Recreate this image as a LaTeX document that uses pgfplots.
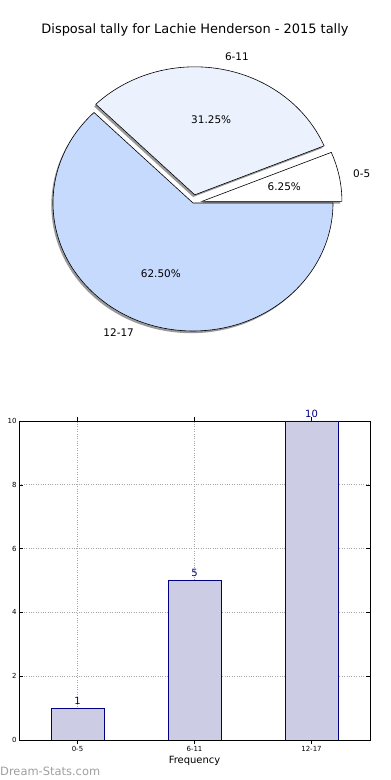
\documentclass[border=0pt]{standalone}
\usepackage{pgfplots}
\pgfplotsset{compat=1.18}
\usepackage{pgfplotstable}
\usepackage{fontspec}
\setmainfont{DejaVu Sans}
\definecolor{navyc}{RGB}{0,0,128}
\definecolor{barfill}{RGB}{204,204,229}
\definecolor{sliceA}{RGB}{255,255,255}
\definecolor{sliceB}{RGB}{235,242,254}
\definecolor{sliceC}{RGB}{198,218,254}
\begin{document}%
\begin{tikzpicture}[x=1bp,y=1bp]
\pgfplotstableread{
label value
0-5 1
6-11 5
12-17 10
}\piedata
\pgfplotstablegetelem{0}{value}\of\piedata \global\let\vA\pgfplotsretval
\pgfplotstablegetelem{1}{value}\of\piedata \global\let\vB\pgfplotsretval
\pgfplotstablegetelem{2}{value}\of\piedata \global\let\vC\pgfplotsretval
\pgfmathsetmacro\total{\vA+\vB+\vC}
\pgfmathsetmacro\eA{360*\vA/\total}
\pgfmathsetmacro\eB{\eA+360*\vB/\total}
\pgfmathsetmacro\mA{\eA/2}
\pgfmathsetmacro\mB{(\eA+\eB)/2}
\pgfmathsetmacro\mC{(\eB+360)/2}
\def\ex{0.065}
\pgfmathsetmacro\dxA{\ex*cos(\mA)}\pgfmathsetmacro\dyA{\ex*sin(\mA)}
\pgfmathsetmacro\dxB{\ex*cos(\mB)}\pgfmathsetmacro\dyB{\ex*sin(\mB)}
\pgfmathsetmacro\pA{100*\vA/\total}
\pgfmathsetmacro\pB{100*\vB/\total}
\pgfmathsetmacro\pC{100*\vC/\total}
\def\pct#1{\pgfmathprintnumber[fixed,fixed zerofill,precision=2,assume math mode=true]{#1}\%}
\def\sx{-0.012}\def\sy{-0.017}
\useasboundingbox (0,0) rectangle (390,780);
% title
\node[font=\fontsize{13}{15}\selectfont] at (195,750) {Disposal tally for Lachie Henderson - 2015 tally};
\begin{axis}[
  at={(193bp,577bp)}, anchor=origin,
  scale only axis, width=280bp, height=256bp,
  xmin=-1, xmax=1, ymin=-1, ymax=1,
  hide axis, clip=false,
]
% shadows
\fill[gray!80] (axis cs:{\dxA+\sx},{\dyA+\sy}) -- ++(0:140bp) arc[start angle=0, end angle=\eA, x radius=140bp, y radius=128bp] -- cycle;
\fill[gray!80] (axis cs:{\dxB+\sx},{\dyB+\sy}) -- ++({140*cos(\eA)*1bp},{128*sin(\eA)*1bp}) arc[start angle=\eA, end angle=\eB, x radius=140bp, y radius=128bp] -- cycle;
\fill[gray!80] (axis cs:\sx,\sy) -- ++({140*cos(\eB)*1bp},{128*sin(\eB)*1bp}) arc[start angle=\eB, end angle=360, x radius=140bp, y radius=128bp] -- cycle;
% slices
\filldraw[fill=sliceA, draw=black, line width=0.6pt, line join=miter] (axis cs:\dxA,\dyA) -- ++(0:140bp) arc[start angle=0, end angle=\eA, x radius=140bp, y radius=128bp] -- cycle;
\filldraw[fill=sliceB, draw=black, line width=0.6pt, line join=miter] (axis cs:\dxB,\dyB) -- ++({140*cos(\eA)*1bp},{128*sin(\eA)*1bp}) arc[start angle=\eA, end angle=\eB, x radius=140bp, y radius=128bp] -- cycle;
\filldraw[fill=sliceC, draw=black, line width=0.6pt, line join=miter] (axis cs:0,0) -- ++({140*cos(\eB)*1bp},{128*sin(\eB)*1bp}) arc[start angle=\eB, end angle=360, x radius=140bp, y radius=128bp] -- cycle;
% labels
\node[font=\fontsize{10.5}{12}\selectfont, anchor=west, inner sep=0pt] at (axis cs:{(1.1+\ex)*cos(\mA)},{(1.1+\ex)*sin(\mA)}) {0-5};
\node[font=\fontsize{10.5}{12}\selectfont, anchor=west, inner sep=0pt] at (axis cs:{(1.1+\ex)*cos(\mB)},{(1.1+\ex)*sin(\mB)}) {6-11};
\node[font=\fontsize{10.5}{12}\selectfont, anchor=east, inner sep=0pt] at (axis cs:{1.1*cos(\mC)},{1.1*sin(\mC)}) {12-17};
\node[font=\fontsize{10.5}{12}\selectfont] at (axis cs:{(0.6+\ex)*cos(\mA)},{(0.6+\ex)*sin(\mA)}) {\pct{\pA}};
\node[font=\fontsize{10.5}{12}\selectfont] at (axis cs:{(0.6+\ex)*cos(\mB)},{(0.6+\ex)*sin(\mB)}) {\pct{\pB}};
\node[font=\fontsize{10.5}{12}\selectfont] at (axis cs:{0.6*cos(\mC)},{0.6*sin(\mC)}) {\pct{\pC}};
\end{axis}
% bar chart
\begin{axis}[
  at={(19bp,40bp)}, anchor=south west,
  scale only axis, width=351bp, height=319bp,
  xmin=-0.5, xmax=2.5, ymin=0, ymax=10,
  xtick={0,1,2}, xticklabels={0-5,6-11,12-17},
  ytick={0,2,4,6,8,10},
  tick align=inside, tick pos=both,
  major tick length=4bp,
  tick style={black, line width=0.5pt},
  grid=major, grid style={dotted, gray!70, line width=0.7pt},
  axis line style={line width=0.7pt},
  /pgf/number format/assume math mode=true,
  tick label style={font=\fontsize{7}{8}\selectfont},
  xticklabel style={yshift=1bp},
  yticklabel style={xshift=1bp},
  xlabel={Frequency}, xlabel style={font=\fontsize{10}{11}\selectfont, yshift=2bp},
  ybar, bar width=0.45,
  nodes near coords,
  every node near coord/.append style={font=\fontsize{10}{11}\selectfont, text=navyc},
]
\addplot[fill=barfill, draw=navyc, line width=0.6pt] table[x expr=\coordindex, y=value] \piedata;
\end{axis}
\node[rotate=90, font=\fontsize{9.5}{11}\selectfont] at (-4,200) {Number of Games};
\node[anchor=west, font=\fontsize{11.5}{13}\selectfont, text=gray!75, inner sep=0pt] at (0,9) {Dream-Stats.com};
\end{tikzpicture}%
\end{document}
